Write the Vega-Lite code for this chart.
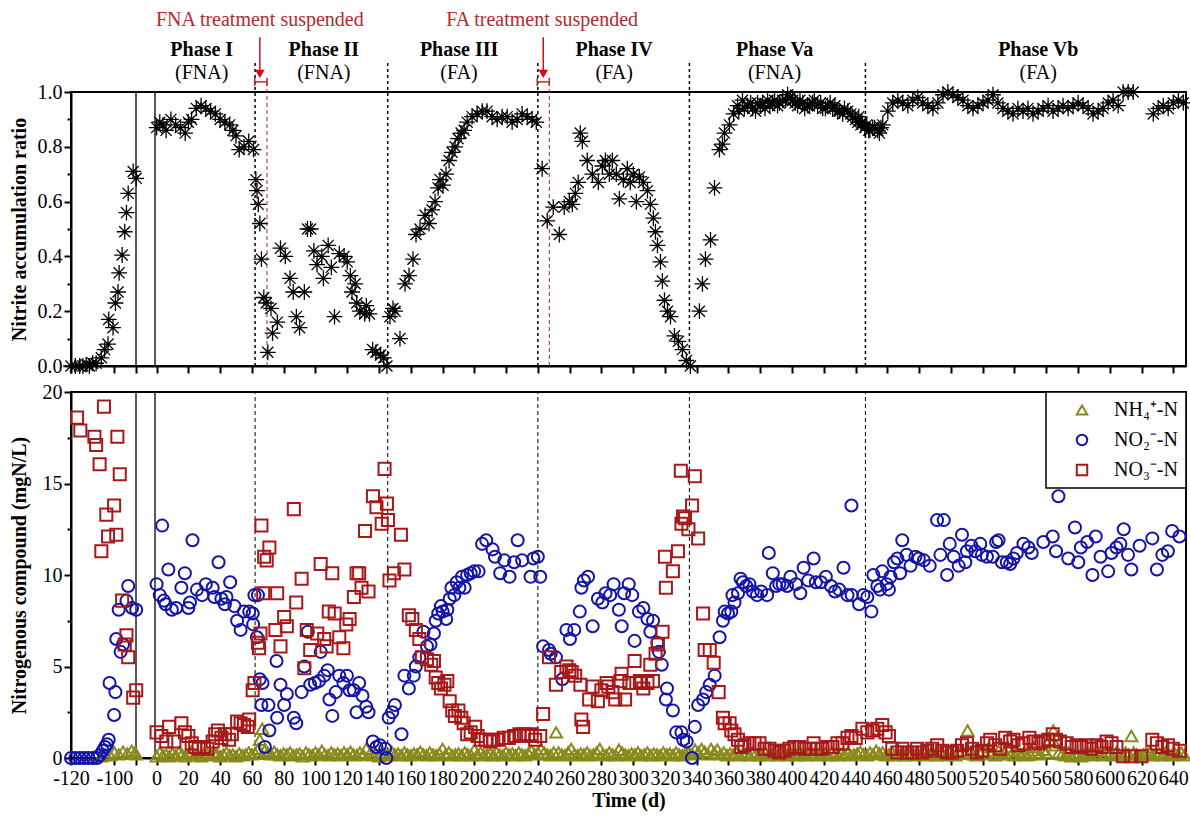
{
"$schema": "https://vega.github.io/schema/vega-lite/v6.json",
"background": "white",
"padding": {"left": 7, "top": 8, "right": 5, "bottom": 5},
"spacing": 26,
"bounds": "flush",
"resolve": {"scale": {"color": "independent", "shape": "independent"}},
"config": {
  "font": "Liberation Serif",
  "view": {"stroke": "black", "strokeWidth": 2},
  "axis": {"labelFont": "Liberation Serif", "labelFontSize": 20, "labelColor": "black", "titleFont": "Liberation Serif", "titleFontSize": 20, "titleFontWeight": "bold", "titleColor": "black", "domainColor": "black", "domainWidth": 2, "tickColor": "black", "tickWidth": 2, "tickSize": 7, "grid": false, "labelPadding": 2},
  "legend": {"orient": "top-right", "offset": 0, "strokeColor": "black", "strokeWidth": 1.5, "fillColor": "white", "padding": 8, "labelFont": "Liberation Serif", "labelFontSize": 20, "labelColor": "black", "symbolStrokeWidth": 2, "symbolSize": 110, "rowPadding": 10, "labelOffset": 22, "symbolOffset": 18}
},
"datasets": {
  "phT": [{"d":62,"r":0,"r2":1.11},{"d":145.5,"r":0,"r2":1.11},{"d":240,"r":0,"r2":1.11},{"d":335.4,"r":0,"r2":1.11},{"d":446.2,"r":0,"r2":1.11}],
  "brkT": [{"d":-90,"r":0,"r2":1},{"d":-1,"r":0,"r2":1}],
  "redT": [{"d":69.5,"r":0,"r2":1.037},{"d":247.2,"r":0,"r2":1.037}],
  "brH": [{"d":61.8,"d2":69.5,"r":1.037},{"d":239.6,"d2":247.2,"r":1.037}],
  "brV": [{"d":61.8,"r":1.022,"r2":1.052},{"d":69.5,"r":1.022,"r2":1.052},{"d":239.6,"r":1.022,"r2":1.052},{"d":247.2,"r":1.022,"r2":1.052}],
  "arr": [{"d":65,"r":1.08,"r2":1.2},{"d":243.4,"r":1.08,"r2":1.2}],
  "arrH": [{"d":65,"r":1.066},{"d":243.4,"r":1.066}],
  "phaseT": [{"d":28.4,"r":1.153,"t":"Phase I"},{"d":105.3,"r":1.153,"t":"Phase II"},{"d":190.4,"r":1.153,"t":"Phase III"},{"d":288,"r":1.153,"t":"Phase IV"},{"d":389,"r":1.153,"t":"Phase Va"},{"d":555,"r":1.153,"t":"Phase Vb"}],
  "regT": [{"d":28.4,"r":1.069,"t":"(FNA)"},{"d":105.3,"r":1.069,"t":"(FNA)"},{"d":190.4,"r":1.069,"t":"(FA)"},{"d":288,"r":1.069,"t":"(FA)"},{"d":389,"r":1.069,"t":"(FNA)"},{"d":555,"r":1.069,"t":"(FA)"}],
  "annT": [{"d":65,"r":1.263,"t":"FNA treatment suspended"},{"d":242.7,"r":1.263,"t":"FA treatment suspended"}],
  "nar": [
    {"d":-120,"r":0},{"d":-118,"r":0},{"d":-116,"r":0},{"d":-114.5,"r":0},{"d":-113,"r":0.005},{"d":-111.5,"r":0},{"d":-110,"r":0.01},{"d":-108.4,"r":0.01},{"d":-106,"r":0.03},{"d":-104.5,"r":0.06},{"d":-102.9,"r":0.08},{"d":-102.6,"r":0.17},{"d":-100.6,"r":0.14},{"d":-99.5,"r":0.23},{"d":-98.3,"r":0.27},{"d":-97.8,"r":0.34},{"d":-96.4,"r":0.405},{"d":-95.2,"r":0.49},{"d":-94.4,"r":0.56},{"d":-93.6,"r":0.63},{"d":-91.3,"r":0.71},{"d":-89,"r":0.685},
    {"d":0,"r":0.87},{"d":2,"r":0.89},{"d":4,"r":0.88},{"d":6,"r":0.86},{"d":9,"r":0.9},{"d":12,"r":0.88},{"d":15,"r":0.87},{"d":18,"r":0.85},{"d":20,"r":0.89},{"d":22,"r":0.9},{"d":25,"r":0.94},{"d":28,"r":0.95},{"d":31,"r":0.94},{"d":34,"r":0.93},{"d":37,"r":0.92},{"d":40,"r":0.9},{"d":43,"r":0.89},{"d":46,"r":0.88},{"d":48,"r":0.86},{"d":50,"r":0.84},{"d":52,"r":0.79},{"d":55,"r":0.8},{"d":58,"r":0.82},{"d":61,"r":0.79},
    {"d":62.5,"r":0.68},{"d":63.2,"r":0.64},{"d":64,"r":0.59},{"d":65,"r":0.52},{"d":66,"r":0.39},{"d":67.5,"r":0.25},{"d":69,"r":0.23},{"d":70,"r":0.05},{"d":72,"r":0.21},{"d":73,"r":0.12},{"d":76,"r":0.16},{"d":78,"r":0.43},{"d":81,"r":0.4},{"d":84,"r":0.32},{"d":86,"r":0.27},{"d":88,"r":0.18},{"d":90,"r":0.14},{"d":93,"r":0.27},{"d":95,"r":0.5},{"d":97,"r":0.5},{"d":99,"r":0.42},{"d":101,"r":0.37},{"d":104,"r":0.4},{"d":105,"r":0.32},{"d":108,"r":0.44},{"d":110,"r":0.36},{"d":112,"r":0.18},{"d":115,"r":0.41},{"d":118,"r":0.4},{"d":120,"r":0.38},{"d":122,"r":0.33},{"d":123,"r":0.27},{"d":125,"r":0.3},{"d":126,"r":0.23},{"d":128,"r":0.2},{"d":131,"r":0.19},{"d":132,"r":0.22},{"d":134,"r":0.19},{"d":136,"r":0.06},{"d":138,"r":0.05},{"d":141,"r":0.04},{"d":143,"r":0.03},{"d":145,"r":0.0},
    {"d":146.9,"r":0.18},{"d":148.8,"r":0.21},{"d":150.1,"r":0.2},{"d":153.2,"r":0.1},{"d":156.4,"r":0.3},{"d":158.9,"r":0.33},{"d":161.4,"r":0.39},{"d":163.3,"r":0.48},{"d":165.8,"r":0.5},{"d":169,"r":0.55},{"d":171.5,"r":0.52},{"d":173.4,"r":0.57},{"d":175.3,"r":0.6},{"d":177.2,"r":0.65},{"d":178.4,"r":0.68},{"d":180.3,"r":0.66},{"d":182.2,"r":0.7},{"d":184.1,"r":0.75},{"d":186,"r":0.78},{"d":187.9,"r":0.8},{"d":189.8,"r":0.83},{"d":191.7,"r":0.85},{"d":193.6,"r":0.86},{"d":195.5,"r":0.89},{"d":198.6,"r":0.91},{"d":201.8,"r":0.92},{"d":205,"r":0.93},{"d":208,"r":0.93},{"d":211.2,"r":0.91},{"d":214.4,"r":0.9},{"d":217.5,"r":0.91},{"d":220.7,"r":0.91},{"d":223.8,"r":0.89},{"d":227,"r":0.9},{"d":230.1,"r":0.92},{"d":233.3,"r":0.91},{"d":236.4,"r":0.9},{"d":239,"r":0.89},
    {"d":242.7,"r":0.72},{"d":245.9,"r":0.53},{"d":249.7,"r":0.58},{"d":253.5,"r":0.48},{"d":256.6,"r":0.58},{"d":259.8,"r":0.6},{"d":261.7,"r":0.59},{"d":263.6,"r":0.63},{"d":265.4,"r":0.67},{"d":266.7,"r":0.85},{"d":268,"r":0.82},{"d":271.1,"r":0.75},{"d":274.3,"r":0.7},{"d":278.1,"r":0.67},{"d":280.6,"r":0.73},{"d":282.5,"r":0.75},{"d":285,"r":0.7},{"d":286.9,"r":0.75},{"d":289.4,"r":0.7},{"d":291.3,"r":0.61},{"d":293.8,"r":0.68},{"d":296.3,"r":0.72},{"d":298.2,"r":0.67},{"d":300.1,"r":0.7},{"d":302,"r":0.6},{"d":303.9,"r":0.69},{"d":306.4,"r":0.67},{"d":309,"r":0.64},{"d":310.8,"r":0.59},{"d":312.7,"r":0.54},{"d":314,"r":0.49},{"d":315.3,"r":0.44},{"d":317.2,"r":0.38},{"d":318.4,"r":0.31},{"d":319.7,"r":0.24},{"d":321.6,"r":0.2},{"d":323.5,"r":0.18},{"d":326,"r":0.11},{"d":328.5,"r":0.09},{"d":331,"r":0.06},{"d":333.5,"r":0.02},{"d":336,"r":0.0},
    {"d":341.7,"r":0.2},{"d":343.6,"r":0.3},{"d":345.5,"r":0.39},{"d":348.7,"r":0.46},{"d":351.2,"r":0.65},{"d":354.3,"r":0.79},{"d":356.2,"r":0.81},{"d":357.5,"r":0.85},{"d":360.6,"r":0.88},{"d":363.2,"r":0.92},{"d":365.7,"r":0.95},{"d":366.5,"r":0.93},{"d":368.8,"r":0.97},{"d":370,"r":0.94},{"d":372,"r":0.95},{"d":374,"r":0.96},{"d":375.2,"r":0.94},{"d":377,"r":0.93},{"d":378.3,"r":0.96},{"d":380,"r":0.95},{"d":381.5,"r":0.96},{"d":383,"r":0.94},{"d":384.6,"r":0.97},{"d":386,"r":0.95},{"d":387.8,"r":0.96},{"d":389,"r":0.97},{"d":390.9,"r":0.95},{"d":392,"r":0.96},{"d":394.1,"r":0.97},{"d":396,"r":0.97},{"d":397.2,"r":0.99},{"d":399,"r":0.98},{"d":400.4,"r":0.97},{"d":402,"r":0.96},{"d":403.5,"r":0.95},{"d":405,"r":0.97},{"d":406.7,"r":0.96},{"d":408,"r":0.94},{"d":409.8,"r":0.95},{"d":411,"r":0.95},{"d":413,"r":0.96},{"d":414,"r":0.97},{"d":416.1,"r":0.95},{"d":418,"r":0.96},{"d":419.3,"r":0.94},{"d":421,"r":0.94},{"d":422.4,"r":0.95},{"d":424,"r":0.96},{"d":425.6,"r":0.94},{"d":427,"r":0.95},{"d":428.8,"r":0.93},{"d":430,"r":0.93},{"d":431.9,"r":0.92},{"d":433,"r":0.94},{"d":435.1,"r":0.93},{"d":437,"r":0.92},{"d":438.2,"r":0.91},{"d":440,"r":0.9},{"d":441.4,"r":0.89},{"d":442,"r":0.91},{"d":443.3,"r":0.88},{"d":444,"r":0.89},{"d":445.8,"r":0.87},{"d":447,"r":0.88},{"d":448.3,"r":0.86},{"d":449,"r":0.86},{"d":450.8,"r":0.87},{"d":452,"r":0.87},{"d":454,"r":0.86},{"d":455,"r":0.85},{"d":456,"r":0.87},{"d":457.1,"r":0.88},
    {"d":460.3,"r":0.93},{"d":463.4,"r":0.96},{"d":466.6,"r":0.97},{"d":469.7,"r":0.96},{"d":472.9,"r":0.95},{"d":476,"r":0.97},{"d":479.2,"r":0.98},{"d":482.3,"r":0.96},{"d":485.5,"r":0.95},{"d":488.7,"r":0.94},{"d":491.8,"r":0.96},{"d":495,"r":0.99},{"d":498.1,"r":1.0},{"d":501.3,"r":0.99},{"d":504.4,"r":0.98},{"d":507.6,"r":0.97},{"d":510.7,"r":0.95},{"d":513.9,"r":0.94},{"d":517,"r":0.95},{"d":520.2,"r":0.96},{"d":523.3,"r":0.97},{"d":526.5,"r":0.99},{"d":529.6,"r":0.96},{"d":532.8,"r":0.94},{"d":535.9,"r":0.93},{"d":539.1,"r":0.92},{"d":542.2,"r":0.94},{"d":545.4,"r":0.93},{"d":548.5,"r":0.94},{"d":551.7,"r":0.92},{"d":554.9,"r":0.93},{"d":558,"r":0.94},{"d":561.2,"r":0.95},{"d":564.3,"r":0.93},{"d":567.5,"r":0.94},{"d":570.6,"r":0.95},{"d":573.8,"r":0.94},{"d":576.9,"r":0.95},{"d":580.1,"r":0.96},{"d":583.2,"r":0.95},{"d":586.4,"r":0.94},{"d":589.5,"r":0.92},{"d":592.7,"r":0.93},{"d":595.8,"r":0.94},{"d":599,"r":0.96},{"d":602.1,"r":0.97},{"d":605.3,"r":0.95},{"d":608.4,"r":1.0},{"d":611.6,"r":1.0},{"d":614.8,"r":1.0},{"d":627.4,"r":0.92},{"d":630.5,"r":0.94},{"d":633.7,"r":0.95},{"d":636.8,"r":0.94},{"d":640,"r":0.96},{"d":643.2,"r":0.97},{"d":646.3,"r":0.96}
  ],
  "phB": [{"d":62,"v":0,"v2":20},{"d":145.5,"v":0,"v2":20},{"d":240,"v":0,"v2":20},{"d":335.4,"v":0,"v2":20},{"d":446.2,"v":0,"v2":20}],
  "brkB": [{"d":-90,"v":0,"v2":20},{"d":-1,"v":0,"v2":20}],
  "nc": [
    {"d":-106,"v":0.1,"s":"NH4"},{"d":-104,"v":0.2,"s":"NH4"},{"d":-102,"v":0.15,"s":"NH4"},{"d":-100,"v":0.3,"s":"NH4"},{"d":-98,"v":0.2,"s":"NH4"},{"d":-96,"v":0.35,"s":"NH4"},{"d":-94,"v":0.25,"s":"NH4"},{"d":-92,"v":0.4,"s":"NH4"},{"d":-90.5,"v":0.3,"s":"NH4"},{"d":-89,"v":0.2,"s":"NH4"},
    {"d":0,"v":0.1,"s":"NH4"},{"d":2,"v":0.3,"s":"NH4"},{"d":4,"v":0.15,"s":"NH4"},{"d":6,"v":0.2,"s":"NH4"},{"d":8,"v":0.1,"s":"NH4"},{"d":10,"v":0.25,"s":"NH4"},{"d":12,"v":0.15,"s":"NH4"},{"d":14,"v":0.3,"s":"NH4"},{"d":16,"v":0.2,"s":"NH4"},{"d":18,"v":0.1,"s":"NH4"},{"d":20,"v":0.2,"s":"NH4"},{"d":22,"v":0.35,"s":"NH4"},{"d":24,"v":0.15,"s":"NH4"},{"d":26,"v":0.2,"s":"NH4"},{"d":28,"v":0.1,"s":"NH4"},{"d":30,"v":0.25,"s":"NH4"},{"d":32,"v":0.2,"s":"NH4"},{"d":34,"v":0.15,"s":"NH4"},{"d":36,"v":0.3,"s":"NH4"},{"d":38,"v":0.2,"s":"NH4"},{"d":40,"v":0.1,"s":"NH4"},{"d":42,"v":0.2,"s":"NH4"},{"d":44,"v":0.3,"s":"NH4"},{"d":46,"v":0.15,"s":"NH4"},{"d":48,"v":0.2,"s":"NH4"},{"d":50,"v":0.1,"s":"NH4"},{"d":52,"v":0.25,"s":"NH4"},{"d":54,"v":0.15,"s":"NH4"},{"d":56,"v":0.2,"s":"NH4"},{"d":58,"v":0.3,"s":"NH4"},{"d":60,"v":0.2,"s":"NH4"},{"d":62,"v":0.25,"s":"NH4"},{"d":64,"v":0.5,"s":"NH4"},{"d":65,"v":1.0,"s":"NH4"},{"d":66.5,"v":1.6,"s":"NH4"},{"d":68,"v":0.4,"s":"NH4"},{"d":70,"v":0.3,"s":"NH4"},{"d":72,"v":0.2,"s":"NH4"},{"d":74,"v":0.35,"s":"NH4"},{"d":76,"v":0.2,"s":"NH4"},{"d":78,"v":0.15,"s":"NH4"},{"d":80,"v":0.25,"s":"NH4"},{"d":82,"v":0.2,"s":"NH4"},{"d":84,"v":0.3,"s":"NH4"},{"d":86,"v":0.15,"s":"NH4"},{"d":88,"v":0.2,"s":"NH4"},{"d":90,"v":0.25,"s":"NH4"},{"d":92,"v":0.1,"s":"NH4"},{"d":94,"v":0.3,"s":"NH4"},{"d":96,"v":0.2,"s":"NH4"},{"d":98,"v":0.15,"s":"NH4"},{"d":100,"v":0.3,"s":"NH4"},{"d":102,"v":0.2,"s":"NH4"},{"d":104,"v":0.4,"s":"NH4"},{"d":106,"v":0.2,"s":"NH4"},{"d":108,"v":0.15,"s":"NH4"},{"d":110,"v":0.3,"s":"NH4"},{"d":112,"v":0.2,"s":"NH4"},{"d":114,"v":0.25,"s":"NH4"},{"d":116,"v":0.15,"s":"NH4"},{"d":118,"v":0.3,"s":"NH4"},{"d":120,"v":0.2,"s":"NH4"},{"d":122,"v":0.35,"s":"NH4"},{"d":124,"v":0.2,"s":"NH4"},{"d":126,"v":0.15,"s":"NH4"},{"d":128,"v":0.3,"s":"NH4"},{"d":130,"v":0.2,"s":"NH4"},{"d":132,"v":0.5,"s":"NH4"},{"d":134,"v":0.2,"s":"NH4"},{"d":136,"v":0.15,"s":"NH4"},{"d":138,"v":0.25,"s":"NH4"},{"d":140,"v":0.1,"s":"NH4"},{"d":142,"v":0.3,"s":"NH4"},{"d":144,"v":0.2,"s":"NH4"},{"d":146,"v":0.15,"s":"NH4"},{"d":148,"v":0.35,"s":"NH4"},{"d":150,"v":0.2,"s":"NH4"},{"d":152,"v":0.25,"s":"NH4"},{"d":154,"v":0.15,"s":"NH4"},{"d":156,"v":0.3,"s":"NH4"},{"d":158,"v":0.2,"s":"NH4"},{"d":160,"v":0.15,"s":"NH4"},{"d":162,"v":0.25,"s":"NH4"},{"d":164,"v":0.2,"s":"NH4"},{"d":166,"v":0.35,"s":"NH4"},{"d":168,"v":0.2,"s":"NH4"},{"d":170,"v":0.15,"s":"NH4"},{"d":172,"v":0.3,"s":"NH4"},{"d":174,"v":0.2,"s":"NH4"},{"d":176,"v":0.15,"s":"NH4"},{"d":178,"v":0.25,"s":"NH4"},{"d":180,"v":0.5,"s":"NH4"},{"d":182,"v":0.2,"s":"NH4"},{"d":184,"v":0.3,"s":"NH4"},{"d":186,"v":0.15,"s":"NH4"},{"d":188,"v":0.2,"s":"NH4"},{"d":190,"v":0.25,"s":"NH4"},{"d":192,"v":0.15,"s":"NH4"},{"d":194,"v":0.3,"s":"NH4"},{"d":196,"v":0.2,"s":"NH4"},{"d":198,"v":0.15,"s":"NH4"},{"d":200,"v":0.45,"s":"NH4"},{"d":202,"v":0.2,"s":"NH4"},{"d":204,"v":0.3,"s":"NH4"},{"d":206,"v":0.15,"s":"NH4"},{"d":208,"v":0.2,"s":"NH4"},{"d":210,"v":0.25,"s":"NH4"},{"d":212,"v":0.15,"s":"NH4"},{"d":214,"v":0.3,"s":"NH4"},{"d":216,"v":0.2,"s":"NH4"},{"d":218,"v":0.15,"s":"NH4"},{"d":220,"v":0.3,"s":"NH4"},{"d":222,"v":0.2,"s":"NH4"},{"d":224,"v":0.25,"s":"NH4"},{"d":226,"v":0.15,"s":"NH4"},{"d":228,"v":0.3,"s":"NH4"},{"d":230,"v":0.2,"s":"NH4"},{"d":232,"v":0.15,"s":"NH4"},{"d":234,"v":0.25,"s":"NH4"},{"d":236,"v":0.4,"s":"NH4"},{"d":238,"v":0.2,"s":"NH4"},{"d":240,"v":0.3,"s":"NH4"},{"d":242,"v":0.5,"s":"NH4"},{"d":244,"v":0.3,"s":"NH4"},{"d":246,"v":0.2,"s":"NH4"},{"d":248,"v":0.15,"s":"NH4"},{"d":250,"v":0.3,"s":"NH4"},{"d":251.5,"v":1.4,"s":"NH4"},{"d":253,"v":0.3,"s":"NH4"},{"d":255,"v":0.2,"s":"NH4"},{"d":257,"v":0.15,"s":"NH4"},{"d":259,"v":0.3,"s":"NH4"},{"d":261,"v":0.5,"s":"NH4"},{"d":263,"v":0.2,"s":"NH4"},{"d":265,"v":0.15,"s":"NH4"},{"d":267,"v":0.25,"s":"NH4"},{"d":269,"v":0.2,"s":"NH4"},{"d":271,"v":0.3,"s":"NH4"},{"d":273,"v":0.15,"s":"NH4"},{"d":275,"v":0.2,"s":"NH4"},{"d":277,"v":0.3,"s":"NH4"},{"d":279,"v":0.5,"s":"NH4"},{"d":281,"v":0.2,"s":"NH4"},{"d":283,"v":0.15,"s":"NH4"},{"d":285,"v":0.3,"s":"NH4"},{"d":287,"v":0.2,"s":"NH4"},{"d":289,"v":0.15,"s":"NH4"},{"d":291,"v":0.45,"s":"NH4"},{"d":293,"v":0.3,"s":"NH4"},{"d":295,"v":0.2,"s":"NH4"},{"d":297,"v":0.15,"s":"NH4"},{"d":299,"v":0.25,"s":"NH4"},{"d":301,"v":0.2,"s":"NH4"},{"d":303,"v":0.3,"s":"NH4"},{"d":305,"v":0.15,"s":"NH4"},{"d":307,"v":0.2,"s":"NH4"},{"d":309,"v":0.3,"s":"NH4"},{"d":311,"v":0.15,"s":"NH4"},{"d":313,"v":0.25,"s":"NH4"},{"d":315,"v":0.2,"s":"NH4"},{"d":317,"v":0.15,"s":"NH4"},{"d":319,"v":0.3,"s":"NH4"},{"d":321,"v":0.2,"s":"NH4"},{"d":323,"v":0.25,"s":"NH4"},{"d":325,"v":0.15,"s":"NH4"},{"d":327,"v":0.3,"s":"NH4"},{"d":329,"v":0.2,"s":"NH4"},{"d":331,"v":0.15,"s":"NH4"},{"d":333,"v":0.25,"s":"NH4"},{"d":335,"v":0.3,"s":"NH4"},{"d":337,"v":0.2,"s":"NH4"},{"d":339,"v":0.45,"s":"NH4"},{"d":341,"v":0.3,"s":"NH4"},{"d":343,"v":0.5,"s":"NH4"},{"d":345,"v":0.35,"s":"NH4"},{"d":347,"v":0.2,"s":"NH4"},{"d":349,"v":0.5,"s":"NH4"},{"d":351,"v":0.3,"s":"NH4"},{"d":353,"v":0.45,"s":"NH4"},{"d":355,"v":0.2,"s":"NH4"},{"d":357,"v":0.3,"s":"NH4"},{"d":359,"v":0.15,"s":"NH4"},{"d":361,"v":0.25,"s":"NH4"},{"d":363,"v":0.2,"s":"NH4"},{"d":365,"v":0.3,"s":"NH4"},{"d":367,"v":0.15,"s":"NH4"},{"d":369,"v":0.2,"s":"NH4"},{"d":371,"v":0.25,"s":"NH4"},{"d":373,"v":0.15,"s":"NH4"},{"d":375,"v":0.3,"s":"NH4"},{"d":377,"v":0.2,"s":"NH4"},{"d":379,"v":0.15,"s":"NH4"},{"d":381,"v":0.2,"s":"NH4"},{"d":383,"v":0.3,"s":"NH4"},{"d":385,"v":0.15,"s":"NH4"},{"d":387,"v":0.2,"s":"NH4"},{"d":389,"v":0.25,"s":"NH4"},{"d":391,"v":0.15,"s":"NH4"},{"d":393,"v":0.3,"s":"NH4"},{"d":395,"v":0.2,"s":"NH4"},{"d":397,"v":0.15,"s":"NH4"},{"d":399,"v":0.25,"s":"NH4"},{"d":401,"v":0.2,"s":"NH4"},{"d":403,"v":0.15,"s":"NH4"},{"d":405,"v":0.3,"s":"NH4"},{"d":407,"v":0.2,"s":"NH4"},{"d":409,"v":0.15,"s":"NH4"},{"d":411,"v":0.25,"s":"NH4"},{"d":413,"v":0.2,"s":"NH4"},{"d":415,"v":0.3,"s":"NH4"},{"d":417,"v":0.15,"s":"NH4"},{"d":419,"v":0.2,"s":"NH4"},{"d":421,"v":0.25,"s":"NH4"},{"d":423,"v":0.15,"s":"NH4"},{"d":425,"v":0.3,"s":"NH4"},{"d":427,"v":0.2,"s":"NH4"},{"d":429,"v":0.15,"s":"NH4"},{"d":431,"v":0.25,"s":"NH4"},{"d":433,"v":0.2,"s":"NH4"},{"d":435,"v":0.3,"s":"NH4"},{"d":437,"v":0.15,"s":"NH4"},{"d":439,"v":0.2,"s":"NH4"},{"d":441,"v":0.25,"s":"NH4"},{"d":443,"v":0.35,"s":"NH4"},{"d":445,"v":0.2,"s":"NH4"},{"d":447,"v":0.15,"s":"NH4"},{"d":449,"v":0.3,"s":"NH4"},{"d":451,"v":0.2,"s":"NH4"},{"d":453,"v":0.4,"s":"NH4"},{"d":455,"v":0.25,"s":"NH4"},{"d":457,"v":0.3,"s":"NH4"},{"d":459,"v":0.15,"s":"NH4"},{"d":461,"v":0.2,"s":"NH4"},{"d":463,"v":0.3,"s":"NH4"},{"d":465,"v":0.15,"s":"NH4"},{"d":467,"v":0.2,"s":"NH4"},{"d":469,"v":0.25,"s":"NH4"},{"d":471,"v":0.15,"s":"NH4"},{"d":473,"v":0.3,"s":"NH4"},{"d":475,"v":0.2,"s":"NH4"},{"d":477,"v":0.15,"s":"NH4"},{"d":479,"v":0.25,"s":"NH4"},{"d":481,"v":0.2,"s":"NH4"},{"d":483,"v":0.3,"s":"NH4"},{"d":485,"v":0.15,"s":"NH4"},{"d":487,"v":0.2,"s":"NH4"},{"d":489,"v":0.25,"s":"NH4"},{"d":491,"v":0.15,"s":"NH4"},{"d":493,"v":0.3,"s":"NH4"},{"d":495,"v":0.2,"s":"NH4"},{"d":497,"v":0.15,"s":"NH4"},{"d":499,"v":0.3,"s":"NH4"},{"d":501,"v":0.2,"s":"NH4"},{"d":503,"v":0.15,"s":"NH4"},{"d":505,"v":0.3,"s":"NH4"},{"d":507,"v":0.4,"s":"NH4"},{"d":509,"v":0.25,"s":"NH4"},{"d":510.5,"v":1.5,"s":"NH4"},{"d":512,"v":0.3,"s":"NH4"},{"d":514,"v":0.2,"s":"NH4"},{"d":516,"v":0.15,"s":"NH4"},{"d":518,"v":0.3,"s":"NH4"},{"d":520,"v":0.4,"s":"NH4"},{"d":522,"v":0.2,"s":"NH4"},{"d":524,"v":0.6,"s":"NH4"},{"d":526,"v":0.3,"s":"NH4"},{"d":528,"v":0.15,"s":"NH4"},{"d":530,"v":0.4,"s":"NH4"},{"d":532,"v":0.2,"s":"NH4"},{"d":534,"v":0.3,"s":"NH4"},{"d":536,"v":0.6,"s":"NH4"},{"d":538,"v":0.2,"s":"NH4"},{"d":540,"v":0.15,"s":"NH4"},{"d":542,"v":0.35,"s":"NH4"},{"d":544,"v":0.2,"s":"NH4"},{"d":546,"v":0.3,"s":"NH4"},{"d":548,"v":0.15,"s":"NH4"},{"d":550,"v":0.2,"s":"NH4"},{"d":552,"v":0.6,"s":"NH4"},{"d":554,"v":0.3,"s":"NH4"},{"d":556,"v":0.2,"s":"NH4"},{"d":558,"v":0.45,"s":"NH4"},{"d":560,"v":0.3,"s":"NH4"},{"d":562,"v":1.0,"s":"NH4"},{"d":564.5,"v":1.5,"s":"NH4"},{"d":566,"v":0.7,"s":"NH4"},{"d":568,"v":0.3,"s":"NH4"},{"d":570,"v":0.2,"s":"NH4"},{"d":572,"v":0.15,"s":"NH4"},{"d":574,"v":0.3,"s":"NH4"},{"d":576,"v":0.1,"s":"NH4"},{"d":578,"v":0.2,"s":"NH4"},{"d":580,"v":0.15,"s":"NH4"},{"d":582,"v":0.1,"s":"NH4"},{"d":584,"v":0.2,"s":"NH4"},{"d":586,"v":0.3,"s":"NH4"},{"d":588,"v":0.15,"s":"NH4"},{"d":590,"v":0.2,"s":"NH4"},{"d":592,"v":0.4,"s":"NH4"},{"d":594,"v":0.2,"s":"NH4"},{"d":596,"v":0.15,"s":"NH4"},{"d":598,"v":0.25,"s":"NH4"},{"d":600,"v":0.2,"s":"NH4"},{"d":602,"v":0.15,"s":"NH4"},{"d":604,"v":0.3,"s":"NH4"},{"d":606,"v":0.2,"s":"NH4"},{"d":608,"v":0.15,"s":"NH4"},{"d":610,"v":0.3,"s":"NH4"},{"d":612,"v":0.2,"s":"NH4"},{"d":613.6,"v":1.2,"s":"NH4"},{"d":615,"v":0.3,"s":"NH4"},{"d":617,"v":0.2,"s":"NH4"},{"d":619,"v":0.15,"s":"NH4"},{"d":621,"v":0.2,"s":"NH4"},{"d":623,"v":0.3,"s":"NH4"},{"d":625,"v":0.3,"s":"NH4"},{"d":627,"v":0.15,"s":"NH4"},{"d":629,"v":0.2,"s":"NH4"},{"d":631,"v":0.25,"s":"NH4"},{"d":633,"v":0.15,"s":"NH4"},{"d":635,"v":0.3,"s":"NH4"},{"d":637,"v":0.2,"s":"NH4"},{"d":639,"v":0.15,"s":"NH4"},{"d":641,"v":0.25,"s":"NH4"},{"d":643,"v":0.2,"s":"NH4"},{"d":645,"v":0.3,"s":"NH4"},{"d":647,"v":0.15,"s":"NH4"},
    {"d":-120,"v":0,"s":"NO2"},{"d":-118,"v":0,"s":"NO2"},{"d":-116,"v":0,"s":"NO2"},{"d":-114,"v":0,"s":"NO2"},{"d":-112,"v":0,"s":"NO2"},{"d":-110,"v":0,"s":"NO2"},{"d":-108,"v":0,"s":"NO2"},{"d":-106.8,"v":0.15,"s":"NO2"},{"d":-105.3,"v":0.4,"s":"NO2"},{"d":-104.3,"v":0.6,"s":"NO2"},{"d":-103.4,"v":0.75,"s":"NO2"},{"d":-102.6,"v":1.0,"s":"NO2"},{"d":-102.2,"v":4.1,"s":"NO2"},{"d":-100.1,"v":2.35,"s":"NO2"},{"d":-99.5,"v":3.6,"s":"NO2"},{"d":-99.1,"v":6.5,"s":"NO2"},{"d":-98,"v":8.1,"s":"NO2"},{"d":-97.1,"v":5.8,"s":"NO2"},{"d":-96,"v":6.2,"s":"NO2"},{"d":-94.4,"v":8.6,"s":"NO2"},{"d":-93.6,"v":9.4,"s":"NO2"},{"d":-91.8,"v":8.2,"s":"NO2"},{"d":-89,"v":8.1,"s":"NO2"},
    {"d":0,"v":9.5,"s":"NO2"},{"d":2,"v":8.9,"s":"NO2"},{"d":3.5,"v":12.7,"s":"NO2"},{"d":4.6,"v":8.6,"s":"NO2"},{"d":5.7,"v":8.4,"s":"NO2"},{"d":7.4,"v":10.3,"s":"NO2"},{"d":9.6,"v":8.1,"s":"NO2"},{"d":12.3,"v":8.2,"s":"NO2"},{"d":15.6,"v":9.3,"s":"NO2"},{"d":17.8,"v":10.1,"s":"NO2"},{"d":20,"v":8.2,"s":"NO2"},{"d":21,"v":8.5,"s":"NO2"},{"d":22.6,"v":11.9,"s":"NO2"},{"d":25.4,"v":9.2,"s":"NO2"},{"d":28.7,"v":8.9,"s":"NO2"},{"d":31,"v":9.5,"s":"NO2"},{"d":35.3,"v":9.3,"s":"NO2"},{"d":36.4,"v":8.8,"s":"NO2"},{"d":39,"v":10.7,"s":"NO2"},{"d":40.8,"v":8.7,"s":"NO2"},{"d":43,"v":8.4,"s":"NO2"},{"d":44,"v":8.8,"s":"NO2"},{"d":46.3,"v":9.6,"s":"NO2"},{"d":49,"v":8.3,"s":"NO2"},{"d":50.7,"v":7.5,"s":"NO2"},{"d":52.9,"v":7.0,"s":"NO2"},{"d":55,"v":8.0,"s":"NO2"},{"d":58.3,"v":8.0,"s":"NO2"},{"d":60.5,"v":7.9,"s":"NO2"},{"d":61.6,"v":8.9,"s":"NO2"},{"d":63.8,"v":8.9,"s":"NO2"},{"d":60.8,"v":7.3,"s":"NO2"},{"d":63.2,"v":6.6,"s":"NO2"},{"d":64.9,"v":4.3,"s":"NO2"},{"d":66.7,"v":4.1,"s":"NO2"},{"d":68.2,"v":0.6,"s":"NO2"},{"d":71,"v":1.5,"s":"NO2"},{"d":66,"v":2.9,"s":"NO2"},{"d":70.4,"v":2.9,"s":"NO2"},{"d":75.5,"v":5.3,"s":"NO2"},{"d":75.9,"v":2.2,"s":"NO2"},{"d":78,"v":4.0,"s":"NO2"},{"d":80.3,"v":2.9,"s":"NO2"},{"d":82,"v":3.5,"s":"NO2"},{"d":86.4,"v":2.2,"s":"NO2"},{"d":87.9,"v":1.9,"s":"NO2"},{"d":91.3,"v":3.6,"s":"NO2"},{"d":93,"v":5.0,"s":"NO2"},{"d":95.2,"v":6.9,"s":"NO2"},{"d":96.7,"v":4.0,"s":"NO2"},{"d":99.6,"v":4.1,"s":"NO2"},{"d":102.2,"v":4.2,"s":"NO2"},{"d":103.3,"v":5.8,"s":"NO2"},{"d":105.5,"v":4.5,"s":"NO2"},{"d":107.7,"v":4.8,"s":"NO2"},{"d":108.8,"v":3.2,"s":"NO2"},{"d":110.6,"v":2.3,"s":"NO2"},{"d":112.8,"v":3.6,"s":"NO2"},{"d":115,"v":4.5,"s":"NO2"},{"d":117.6,"v":4.1,"s":"NO2"},{"d":119.8,"v":4.5,"s":"NO2"},{"d":121.5,"v":3.7,"s":"NO2"},{"d":124.2,"v":3.7,"s":"NO2"},{"d":125.9,"v":2.5,"s":"NO2"},{"d":127.5,"v":4.1,"s":"NO2"},{"d":129.6,"v":3.4,"s":"NO2"},{"d":131.9,"v":2.8,"s":"NO2"},{"d":133.4,"v":2.5,"s":"NO2"},{"d":136.2,"v":0.9,"s":"NO2"},{"d":138.4,"v":0.6,"s":"NO2"},{"d":140.6,"v":0.7,"s":"NO2"},{"d":143.9,"v":0.5,"s":"NO2"},{"d":144.6,"v":0.0,"s":"NO2"},{"d":146.1,"v":2.2,"s":"NO2"},{"d":148.3,"v":2.5,"s":"NO2"},{"d":150,"v":2.9,"s":"NO2"},{"d":154.2,"v":1.3,"s":"NO2"},{"d":156,"v":4.5,"s":"NO2"},{"d":158.8,"v":3.8,"s":"NO2"},{"d":161.9,"v":4.5,"s":"NO2"},{"d":163.2,"v":5.0,"s":"NO2"},{"d":165.4,"v":5.5,"s":"NO2"},{"d":168,"v":6.9,"s":"NO2"},{"d":170.2,"v":6.1,"s":"NO2"},{"d":172.4,"v":6.2,"s":"NO2"},{"d":174.6,"v":6.8,"s":"NO2"},{"d":175.7,"v":7.5,"s":"NO2"},{"d":177.3,"v":7.9,"s":"NO2"},{"d":179,"v":8.3,"s":"NO2"},{"d":180.1,"v":8.0,"s":"NO2"},{"d":182.3,"v":7.6,"s":"NO2"},{"d":183,"v":8.1,"s":"NO2"},{"d":184.5,"v":8.7,"s":"NO2"},{"d":185.6,"v":9.3,"s":"NO2"},{"d":187.4,"v":8.9,"s":"NO2"},{"d":188.9,"v":9.6,"s":"NO2"},{"d":190.6,"v":9.3,"s":"NO2"},{"d":192.2,"v":9.9,"s":"NO2"},{"d":193.9,"v":9.3,"s":"NO2"},{"d":195.5,"v":10.0,"s":"NO2"},{"d":197.7,"v":10.1,"s":"NO2"},{"d":199.9,"v":10.2,"s":"NO2"},{"d":202.7,"v":10.2,"s":"NO2"},{"d":204.9,"v":11.7,"s":"NO2"},{"d":207.5,"v":11.9,"s":"NO2"},{"d":211.5,"v":11.4,"s":"NO2"},{"d":213,"v":11.0,"s":"NO2"},{"d":216.3,"v":10.1,"s":"NO2"},{"d":218.9,"v":10.8,"s":"NO2"},{"d":222.2,"v":9.9,"s":"NO2"},{"d":225.1,"v":10.7,"s":"NO2"},{"d":227.3,"v":11.9,"s":"NO2"},{"d":230.1,"v":10.8,"s":"NO2"},{"d":235.4,"v":9.9,"s":"NO2"},{"d":237.2,"v":10.9,"s":"NO2"},{"d":240,"v":11.0,"s":"NO2"},{"d":241.5,"v":9.9,"s":"NO2"},{"d":243.3,"v":6.1,"s":"NO2"},{"d":247,"v":5.9,"s":"NO2"},{"d":248.1,"v":5.7,"s":"NO2"},{"d":251.4,"v":5.5,"s":"NO2"},{"d":255.4,"v":4.3,"s":"NO2"},{"d":258,"v":7.0,"s":"NO2"},{"d":260.2,"v":6.5,"s":"NO2"},{"d":262.9,"v":7.0,"s":"NO2"},{"d":266.4,"v":8.0,"s":"NO2"},{"d":267.4,"v":9.3,"s":"NO2"},{"d":269,"v":9.7,"s":"NO2"},{"d":271.6,"v":9.9,"s":"NO2"},{"d":274.5,"v":7.2,"s":"NO2"},{"d":277.8,"v":8.7,"s":"NO2"},{"d":280.6,"v":8.5,"s":"NO2"},{"d":282.6,"v":9.0,"s":"NO2"},{"d":285.5,"v":8.9,"s":"NO2"},{"d":287.7,"v":9.5,"s":"NO2"},{"d":291,"v":8.1,"s":"NO2"},{"d":292.8,"v":7.2,"s":"NO2"},{"d":294.3,"v":9.0,"s":"NO2"},{"d":297.2,"v":9.5,"s":"NO2"},{"d":299.4,"v":8.9,"s":"NO2"},{"d":300.9,"v":6.4,"s":"NO2"},{"d":303.6,"v":8.0,"s":"NO2"},{"d":306.4,"v":8.2,"s":"NO2"},{"d":309,"v":7.6,"s":"NO2"},{"d":310.8,"v":6.9,"s":"NO2"},{"d":312.5,"v":7.5,"s":"NO2"},{"d":315.2,"v":6.3,"s":"NO2"},{"d":316.2,"v":5.8,"s":"NO2"},{"d":318,"v":5.1,"s":"NO2"},{"d":321.3,"v":3.8,"s":"NO2"},{"d":320.6,"v":3.2,"s":"NO2"},{"d":325,"v":2.6,"s":"NO2"},{"d":327.1,"v":1.4,"s":"NO2"},{"d":330.4,"v":1.4,"s":"NO2"},{"d":331.5,"v":1.0,"s":"NO2"},{"d":333.7,"v":0.9,"s":"NO2"},{"d":337,"v":0.0,"s":"NO2"},
    {"d":338.8,"v":1.7,"s":"NO2"},{"d":340.9,"v":2.9,"s":"NO2"},{"d":344,"v":3.2,"s":"NO2"},{"d":346,"v":3.6,"s":"NO2"},{"d":348.2,"v":4.0,"s":"NO2"},{"d":351.3,"v":4.5,"s":"NO2"},{"d":354.4,"v":6.6,"s":"NO2"},{"d":356.5,"v":7.5,"s":"NO2"},{"d":357.6,"v":8.0,"s":"NO2"},{"d":359.7,"v":7.9,"s":"NO2"},{"d":361.8,"v":8.0,"s":"NO2"},{"d":363.8,"v":8.5,"s":"NO2"},{"d":362.5,"v":8.9,"s":"NO2"},{"d":366,"v":9.0,"s":"NO2"},{"d":367.6,"v":9.8,"s":"NO2"},{"d":369.1,"v":9.6,"s":"NO2"},{"d":371.2,"v":9.4,"s":"NO2"},{"d":373.2,"v":9.5,"s":"NO2"},{"d":375.3,"v":9.1,"s":"NO2"},{"d":378,"v":8.9,"s":"NO2"},{"d":380.6,"v":9.1,"s":"NO2"},{"d":384.3,"v":8.9,"s":"NO2"},{"d":385.4,"v":11.2,"s":"NO2"},{"d":387.9,"v":10.1,"s":"NO2"},{"d":390,"v":9.4,"s":"NO2"},{"d":392,"v":9.5,"s":"NO2"},{"d":394.1,"v":9.5,"s":"NO2"},{"d":396.9,"v":9.4,"s":"NO2"},{"d":399,"v":9.9,"s":"NO2"},{"d":402.5,"v":9.5,"s":"NO2"},{"d":405.2,"v":9.0,"s":"NO2"},{"d":407.3,"v":10.4,"s":"NO2"},{"d":410.2,"v":9.7,"s":"NO2"},{"d":413.6,"v":10.9,"s":"NO2"},{"d":415,"v":9.6,"s":"NO2"},{"d":418.2,"v":9.6,"s":"NO2"},{"d":421.3,"v":9.9,"s":"NO2"},{"d":424.5,"v":9.4,"s":"NO2"},{"d":427,"v":9.1,"s":"NO2"},{"d":429.7,"v":9.2,"s":"NO2"},{"d":432.4,"v":10.4,"s":"NO2"},{"d":434.9,"v":8.9,"s":"NO2"},{"d":437.6,"v":8.9,"s":"NO2"},{"d":437.4,"v":13.8,"s":"NO2"},{"d":442.2,"v":8.4,"s":"NO2"},{"d":444.9,"v":8.9,"s":"NO2"},{"d":447.4,"v":8.8,"s":"NO2"},{"d":450,"v":8.0,"s":"NO2"},{"d":451.2,"v":10.0,"s":"NO2"},{"d":453.7,"v":9.4,"s":"NO2"},{"d":455.4,"v":9.2,"s":"NO2"},{"d":456.8,"v":10.2,"s":"NO2"},{"d":459.6,"v":9.5,"s":"NO2"},{"d":461,"v":9.2,"s":"NO2"},{"d":462,"v":9.9,"s":"NO2"},{"d":464.2,"v":10.7,"s":"NO2"},{"d":466.3,"v":10.9,"s":"NO2"},{"d":468,"v":10.1,"s":"NO2"},{"d":469.4,"v":11.9,"s":"NO2"},{"d":472.1,"v":11.1,"s":"NO2"},{"d":474.6,"v":10.5,"s":"NO2"},{"d":477.7,"v":11.0,"s":"NO2"},{"d":479.8,"v":10.9,"s":"NO2"},{"d":483,"v":10.8,"s":"NO2"},{"d":486.7,"v":10.5,"s":"NO2"},{"d":491.3,"v":13.0,"s":"NO2"},{"d":495.5,"v":13.0,"s":"NO2"},{"d":493.4,"v":11.1,"s":"NO2"},{"d":497.6,"v":10.0,"s":"NO2"},{"d":499.3,"v":11.7,"s":"NO2"},{"d":501.8,"v":11.0,"s":"NO2"},{"d":504.9,"v":10.5,"s":"NO2"},{"d":507,"v":12.2,"s":"NO2"},{"d":509.1,"v":10.7,"s":"NO2"},{"d":510.1,"v":11.3,"s":"NO2"},{"d":512.9,"v":11.6,"s":"NO2"},{"d":515.4,"v":11.3,"s":"NO2"},{"d":518.5,"v":11.7,"s":"NO2"},{"d":519.5,"v":11.1,"s":"NO2"},{"d":522.7,"v":11.0,"s":"NO2"},{"d":526.4,"v":11.0,"s":"NO2"},{"d":528.5,"v":11.8,"s":"NO2"},{"d":530,"v":11.9,"s":"NO2"},{"d":532.1,"v":10.7,"s":"NO2"},{"d":535.2,"v":10.7,"s":"NO2"},{"d":537.3,"v":10.6,"s":"NO2"},{"d":539.4,"v":10.9,"s":"NO2"},{"d":541.5,"v":11.2,"s":"NO2"},{"d":545.7,"v":11.7,"s":"NO2"},{"d":548.8,"v":11.5,"s":"NO2"},{"d":550.9,"v":11.2,"s":"NO2"},{"d":558.2,"v":11.8,"s":"NO2"},{"d":564.1,"v":12.1,"s":"NO2"},{"d":566.2,"v":11.3,"s":"NO2"},{"d":567.7,"v":14.3,"s":"NO2"},{"d":573.9,"v":10.9,"s":"NO2"},{"d":578.1,"v":12.6,"s":"NO2"},{"d":580.2,"v":10.7,"s":"NO2"},{"d":581.8,"v":11.5,"s":"NO2"},{"d":585.8,"v":11.8,"s":"NO2"},{"d":589.1,"v":10.0,"s":"NO2"},{"d":591.2,"v":12.1,"s":"NO2"},{"d":594.2,"v":11.0,"s":"NO2"},{"d":599,"v":10.2,"s":"NO2"},{"d":601.1,"v":11.2,"s":"NO2"},{"d":604.2,"v":11.5,"s":"NO2"},{"d":606.7,"v":11.7,"s":"NO2"},{"d":608.8,"v":12.5,"s":"NO2"},{"d":611.5,"v":11.1,"s":"NO2"},{"d":613.6,"v":10.3,"s":"NO2"},{"d":618.8,"v":11.6,"s":"NO2"},{"d":626.8,"v":12.0,"s":"NO2"},{"d":629.7,"v":10.3,"s":"NO2"},{"d":633.1,"v":11.1,"s":"NO2"},{"d":636.6,"v":11.3,"s":"NO2"},{"d":639.3,"v":12.4,"s":"NO2"},{"d":643.9,"v":12.1,"s":"NO2"},
    {"d":-117.2,"v":18.6,"s":"NO3"},{"d":-115.7,"v":17.9,"s":"NO3"},{"d":-109.2,"v":17.55,"s":"NO3"},{"d":-108.4,"v":17.1,"s":"NO3"},{"d":-106.8,"v":16.05,"s":"NO3"},{"d":-106,"v":11.3,"s":"NO3"},{"d":-104.8,"v":19.2,"s":"NO3"},{"d":-103.7,"v":13.3,"s":"NO3"},{"d":-102.9,"v":12.1,"s":"NO3"},{"d":-100.1,"v":13.8,"s":"NO3"},{"d":-99.1,"v":12.2,"s":"NO3"},{"d":-98.6,"v":17.55,"s":"NO3"},{"d":-97.5,"v":15.5,"s":"NO3"},{"d":-96.4,"v":8.6,"s":"NO3"},{"d":-94.4,"v":6.7,"s":"NO3"},{"d":-95.2,"v":6.2,"s":"NO3"},{"d":-93.6,"v":5.5,"s":"NO3"},{"d":-91.3,"v":3.3,"s":"NO3"},{"d":-89,"v":3.7,"s":"NO3"},
    {"d":0,"v":1.4,"s":"NO3"},{"d":3,"v":1.2,"s":"NO3"},{"d":6.1,"v":0.9,"s":"NO3"},{"d":7.9,"v":1.7,"s":"NO3"},{"d":11.2,"v":0.9,"s":"NO3"},{"d":15.6,"v":1.9,"s":"NO3"},{"d":17.8,"v":1.4,"s":"NO3"},{"d":20,"v":1.2,"s":"NO3"},{"d":22.1,"v":0.8,"s":"NO3"},{"d":24.3,"v":0.6,"s":"NO3"},{"d":26.5,"v":0.5,"s":"NO3"},{"d":29.8,"v":0.6,"s":"NO3"},{"d":32,"v":0.5,"s":"NO3"},{"d":35.3,"v":0.9,"s":"NO3"},{"d":36.9,"v":1.3,"s":"NO3"},{"d":38.6,"v":1.5,"s":"NO3"},{"d":40.8,"v":1.1,"s":"NO3"},{"d":43,"v":1.3,"s":"NO3"},{"d":45.6,"v":1.0,"s":"NO3"},{"d":47.4,"v":1.3,"s":"NO3"},{"d":50.7,"v":2.0,"s":"NO3"},{"d":52.9,"v":1.9,"s":"NO3"},{"d":55,"v":1.8,"s":"NO3"},{"d":57.3,"v":1.7,"s":"NO3"},{"d":58.3,"v":2.1,"s":"NO3"},{"d":60.5,"v":3.7,"s":"NO3"},{"d":61.6,"v":4.1,"s":"NO3"},{"d":63.8,"v":6.3,"s":"NO3"},{"d":64.5,"v":6.0,"s":"NO3"},{"d":65.4,"v":6.8,"s":"NO3"},{"d":66,"v":12.7,"s":"NO3"},{"d":67.7,"v":11.0,"s":"NO3"},{"d":69.3,"v":10.8,"s":"NO3"},{"d":71,"v":11.5,"s":"NO3"},{"d":67.1,"v":9.0,"s":"NO3"},{"d":75.9,"v":9.0,"s":"NO3"},{"d":74.8,"v":7.0,"s":"NO3"},{"d":78,"v":6.1,"s":"NO3"},{"d":80.3,"v":7.7,"s":"NO3"},{"d":82,"v":7.2,"s":"NO3"},{"d":86.4,"v":13.6,"s":"NO3"},{"d":87.9,"v":8.5,"s":"NO3"},{"d":91.3,"v":9.8,"s":"NO3"},{"d":93,"v":4.9,"s":"NO3"},{"d":94.5,"v":7.0,"s":"NO3"},{"d":96.7,"v":5.9,"s":"NO3"},{"d":101.1,"v":6.8,"s":"NO3"},{"d":103.3,"v":10.6,"s":"NO3"},{"d":105.5,"v":6.5,"s":"NO3"},{"d":107,"v":6.1,"s":"NO3"},{"d":108.4,"v":8.0,"s":"NO3"},{"d":110.6,"v":10.1,"s":"NO3"},{"d":112.1,"v":7.9,"s":"NO3"},{"d":115,"v":6.6,"s":"NO3"},{"d":117.6,"v":6.0,"s":"NO3"},{"d":119.4,"v":7.3,"s":"NO3"},{"d":121.5,"v":7.6,"s":"NO3"},{"d":124.2,"v":8.8,"s":"NO3"},{"d":125.9,"v":10.1,"s":"NO3"},{"d":127.5,"v":10.1,"s":"NO3"},{"d":129,"v":9.3,"s":"NO3"},{"d":131.2,"v":12.4,"s":"NO3"},{"d":133.4,"v":9.1,"s":"NO3"},{"d":136.2,"v":14.3,"s":"NO3"},{"d":138.4,"v":13.7,"s":"NO3"},{"d":141.7,"v":12.8,"s":"NO3"},{"d":143.5,"v":15.8,"s":"NO3"},{"d":145,"v":13.9,"s":"NO3"},{"d":145.7,"v":13.0,"s":"NO3"},{"d":146.6,"v":9.7,"s":"NO3"},{"d":149.4,"v":10.1,"s":"NO3"},{"d":153.8,"v":12.2,"s":"NO3"},{"d":156,"v":10.3,"s":"NO3"},{"d":158.8,"v":7.8,"s":"NO3"},{"d":161,"v":7.6,"s":"NO3"},{"d":163.2,"v":7.0,"s":"NO3"},{"d":165.4,"v":6.5,"s":"NO3"},{"d":167,"v":5.5,"s":"NO3"},{"d":170.2,"v":5.4,"s":"NO3"},{"d":172.9,"v":5.1,"s":"NO3"},{"d":174.6,"v":5.3,"s":"NO3"},{"d":175.7,"v":4.4,"s":"NO3"},{"d":177.3,"v":4.1,"s":"NO3"},{"d":179,"v":3.8,"s":"NO3"},{"d":181.2,"v":4.0,"s":"NO3"},{"d":183,"v":4.2,"s":"NO3"},{"d":184.5,"v":3.1,"s":"NO3"},{"d":186.1,"v":2.6,"s":"NO3"},{"d":187.8,"v":2.3,"s":"NO3"},{"d":190,"v":2.6,"s":"NO3"},{"d":191.8,"v":2.2,"s":"NO3"},{"d":193.3,"v":1.9,"s":"NO3"},{"d":195.5,"v":1.3,"s":"NO3"},{"d":197.7,"v":1.4,"s":"NO3"},{"d":200.5,"v":1.7,"s":"NO3"},{"d":202.1,"v":1.2,"s":"NO3"},{"d":204.3,"v":1.0,"s":"NO3"},{"d":207.2,"v":1.0,"s":"NO3"},{"d":209.8,"v":0.9,"s":"NO3"},{"d":212,"v":1.0,"s":"NO3"},{"d":215.3,"v":1.0,"s":"NO3"},{"d":218.5,"v":1.1,"s":"NO3"},{"d":221.8,"v":1.1,"s":"NO3"},{"d":225.1,"v":1.2,"s":"NO3"},{"d":228.4,"v":1.3,"s":"NO3"},{"d":231.2,"v":1.3,"s":"NO3"},{"d":233.9,"v":1.2,"s":"NO3"},{"d":236.1,"v":1.3,"s":"NO3"},{"d":238.3,"v":1.0,"s":"NO3"},{"d":241.5,"v":1.2,"s":"NO3"},{"d":243.3,"v":2.4,"s":"NO3"},{"d":247,"v":5.5,"s":"NO3"},{"d":251.4,"v":4.0,"s":"NO3"},{"d":254.7,"v":4.7,"s":"NO3"},{"d":258,"v":5.0,"s":"NO3"},{"d":259.8,"v":4.8,"s":"NO3"},{"d":261.3,"v":4.7,"s":"NO3"},{"d":263.5,"v":4.5,"s":"NO3"},{"d":266.8,"v":4.0,"s":"NO3"},{"d":267.4,"v":2.1,"s":"NO3"},{"d":268.5,"v":1.7,"s":"NO3"},{"d":272.3,"v":3.2,"s":"NO3"},{"d":274.5,"v":3.9,"s":"NO3"},{"d":277.8,"v":3.1,"s":"NO3"},{"d":280,"v":3.7,"s":"NO3"},{"d":283.3,"v":4.1,"s":"NO3"},{"d":284.4,"v":3.9,"s":"NO3"},{"d":287,"v":3.6,"s":"NO3"},{"d":288.7,"v":3.2,"s":"NO3"},{"d":292,"v":4.2,"s":"NO3"},{"d":292.7,"v":4.6,"s":"NO3"},{"d":294.9,"v":3.2,"s":"NO3"},{"d":297.6,"v":4.1,"s":"NO3"},{"d":300.9,"v":5.3,"s":"NO3"},{"d":302,"v":4.1,"s":"NO3"},{"d":304.2,"v":4.2,"s":"NO3"},{"d":306.4,"v":3.8,"s":"NO3"},{"d":309,"v":4.1,"s":"NO3"},{"d":310.8,"v":5.1,"s":"NO3"},{"d":312.5,"v":4.2,"s":"NO3"},{"d":314.1,"v":5.7,"s":"NO3"},{"d":315.6,"v":6.2,"s":"NO3"},{"d":318.5,"v":6.9,"s":"NO3"},{"d":320.6,"v":9.3,"s":"NO3"},{"d":320,"v":11.0,"s":"NO3"},{"d":325,"v":10.2,"s":"NO3"},{"d":328.2,"v":11.3,"s":"NO3"},{"d":330.4,"v":12.8,"s":"NO3"},{"d":332.6,"v":13.1,"s":"NO3"},{"d":330,"v":15.7,"s":"NO3"},{"d":334.8,"v":12.5,"s":"NO3"},{"d":338.8,"v":15.4,"s":"NO3"},{"d":331.4,"v":13.2,"s":"NO3"},{"d":337.1,"v":13.8,"s":"NO3"},{"d":340.9,"v":12.0,"s":"NO3"},{"d":344,"v":7.9,"s":"NO3"},{"d":345,"v":5.9,"s":"NO3"},{"d":348.2,"v":5.9,"s":"NO3"},{"d":350.7,"v":5.2,"s":"NO3"},{"d":353.8,"v":3.6,"s":"NO3"},{"d":356.5,"v":2.2,"s":"NO3"},{"d":357.6,"v":1.9,"s":"NO3"},{"d":360.7,"v":1.9,"s":"NO3"},{"d":361.8,"v":1.5,"s":"NO3"},{"d":363.8,"v":1.3,"s":"NO3"},{"d":366,"v":1.0,"s":"NO3"},{"d":368,"v":0.6,"s":"NO3"},{"d":370.1,"v":0.7,"s":"NO3"},{"d":373.2,"v":0.8,"s":"NO3"},{"d":376.4,"v":0.8,"s":"NO3"},{"d":379.5,"v":0.8,"s":"NO3"},{"d":382.7,"v":0.5,"s":"NO3"},{"d":385.8,"v":0.5,"s":"NO3"},{"d":389,"v":0.4,"s":"NO3"},{"d":392,"v":0.3,"s":"NO3"},{"d":395.2,"v":0.4,"s":"NO3"},{"d":398.3,"v":0.5,"s":"NO3"},{"d":401.5,"v":0.6,"s":"NO3"},{"d":404.6,"v":0.6,"s":"NO3"},{"d":407.7,"v":0.5,"s":"NO3"},{"d":410.9,"v":0.5,"s":"NO3"},{"d":413.6,"v":0.8,"s":"NO3"},{"d":416.1,"v":0.5,"s":"NO3"},{"d":419.2,"v":0.5,"s":"NO3"},{"d":422.4,"v":0.6,"s":"NO3"},{"d":425.5,"v":0.6,"s":"NO3"},{"d":428.6,"v":0.8,"s":"NO3"},{"d":431.8,"v":0.8,"s":"NO3"},{"d":434.9,"v":1.1,"s":"NO3"},{"d":437.4,"v":1.2,"s":"NO3"},{"d":440.1,"v":1.1,"s":"NO3"},{"d":444.3,"v":1.6,"s":"NO3"},{"d":447.4,"v":1.4,"s":"NO3"},{"d":450.6,"v":1.5,"s":"NO3"},{"d":453.7,"v":1.6,"s":"NO3"},{"d":456.8,"v":1.8,"s":"NO3"},{"d":458.9,"v":1.4,"s":"NO3"},{"d":461,"v":1.2,"s":"NO3"},{"d":463.1,"v":0.5,"s":"NO3"},{"d":466.3,"v":0.3,"s":"NO3"},{"d":469.4,"v":0.5,"s":"NO3"},{"d":472.5,"v":0.3,"s":"NO3"},{"d":475.7,"v":0.3,"s":"NO3"},{"d":478.8,"v":0.5,"s":"NO3"},{"d":482,"v":0.3,"s":"NO3"},{"d":485.1,"v":0.4,"s":"NO3"},{"d":488.2,"v":0.5,"s":"NO3"},{"d":491.4,"v":0.7,"s":"NO3"},{"d":494.5,"v":0.4,"s":"NO3"},{"d":497.6,"v":0.3,"s":"NO3"},{"d":500.7,"v":0.3,"s":"NO3"},{"d":503.9,"v":0.4,"s":"NO3"},{"d":507,"v":0.7,"s":"NO3"},{"d":510.1,"v":0.8,"s":"NO3"},{"d":513.3,"v":0.5,"s":"NO3"},{"d":516.4,"v":0.3,"s":"NO3"},{"d":519.5,"v":0.4,"s":"NO3"},{"d":522.7,"v":0.8,"s":"NO3"},{"d":524.8,"v":1.0,"s":"NO3"},{"d":527.9,"v":0.7,"s":"NO3"},{"d":531,"v":0.5,"s":"NO3"},{"d":534.2,"v":1.1,"s":"NO3"},{"d":537.3,"v":0.9,"s":"NO3"},{"d":539.4,"v":1.0,"s":"NO3"},{"d":542.5,"v":0.7,"s":"NO3"},{"d":545.7,"v":0.8,"s":"NO3"},{"d":549.4,"v":1.1,"s":"NO3"},{"d":552,"v":0.9,"s":"NO3"},{"d":555.1,"v":0.8,"s":"NO3"},{"d":558.2,"v":0.9,"s":"NO3"},{"d":561.3,"v":1.0,"s":"NO3"},{"d":564.1,"v":1.3,"s":"NO3"},{"d":566.2,"v":1.0,"s":"NO3"},{"d":568.7,"v":0.9,"s":"NO3"},{"d":572.9,"v":0.8,"s":"NO3"},{"d":576,"v":0.6,"s":"NO3"},{"d":579.1,"v":0.7,"s":"NO3"},{"d":582.2,"v":0.6,"s":"NO3"},{"d":585.4,"v":0.7,"s":"NO3"},{"d":588.5,"v":0.5,"s":"NO3"},{"d":591.7,"v":0.7,"s":"NO3"},{"d":594.8,"v":0.6,"s":"NO3"},{"d":598,"v":0.9,"s":"NO3"},{"d":601.1,"v":0.8,"s":"NO3"},{"d":604.2,"v":0.6,"s":"NO3"},{"d":608.4,"v":0.1,"s":"NO3"},{"d":613.6,"v":0.1,"s":"NO3"},{"d":619.9,"v":0.1,"s":"NO3"},{"d":626.8,"v":1.0,"s":"NO3"},{"d":629.7,"v":0.8,"s":"NO3"},{"d":633.1,"v":0.6,"s":"NO3"},{"d":636.6,"v":0.7,"s":"NO3"},{"d":639.7,"v":0.5,"s":"NO3"},{"d":643.9,"v":0.4,"s":"NO3"}
  ]
},
"vconcat": [
  {
    "width": 1115, "height": 274,
    "encoding": {
      "x": {"field": "d", "type": "quantitative", "scale": {"domain": [-120, -90, -1, 648], "range": [0, 65, 84, 1115]}, "axis": {"values": [-120,-100,-90,0,20,40,60,80,100,120,140,160,180,200,220,240,260,280,300,320,340,360,380,400,420,440,460,480,500,520,540,560,580,600,620,640], "labels": false, "title": null}},
      "y": {"field": "r", "type": "quantitative", "scale": {"domain": [0, 1], "nice": false, "zero": false}, "axis": {"values": [0, 0.1, 0.2, 0.3, 0.4, 0.5, 0.6, 0.7, 0.8, 0.9, 1], "labelExpr": "round(datum.value * 10) % 2 == 1 ? '' : format(datum.value, '.1f')", "tickSize": {"condition": {"test": "round(datum.value * 10) % 2 == 1", "value": 4}, "value": 7}, "title": "Nitrite accumulation ratio", "titleX": -42}}
    },
    "layer": [
      {"data": {"name": "phT"}, "mark": {"type": "rule", "color": "black", "strokeWidth": 1.5, "strokeDash": [3, 3]}, "encoding": {"y2": {"field": "r2"}}},
      {"data": {"name": "brkT"}, "mark": {"type": "rule", "color": "#222222", "strokeWidth": 1.5}, "encoding": {"y2": {"field": "r2"}}},
      {"data": {"name": "redT"}, "mark": {"type": "rule", "color": "#a0282d", "strokeWidth": 1, "strokeDash": [4, 3]}, "encoding": {"y2": {"field": "r2"}}},
      {"data": {"name": "brH"}, "mark": {"type": "rule", "color": "#c0272d", "strokeWidth": 1.5}, "encoding": {"x2": {"field": "d2"}}},
      {"data": {"name": "brV"}, "mark": {"type": "rule", "color": "#c0272d", "strokeWidth": 1.5}, "encoding": {"y2": {"field": "r2"}}},
      {"data": {"name": "arr"}, "mark": {"type": "rule", "color": "#d01020", "strokeWidth": 1.5}, "encoding": {"y2": {"field": "r2"}}},
      {"data": {"name": "arrH"}, "mark": {"type": "point", "shape": "triangle-down", "filled": true, "color": "#e00010", "size": 90, "opacity": 1}, "encoding": {}},
      {"data": {"name": "phaseT"}, "mark": {"type": "text", "font": "Liberation Serif", "fontSize": 20, "fontWeight": "bold", "color": "black"}, "encoding": {"text": {"field": "t"}}},
      {"data": {"name": "regT"}, "mark": {"type": "text", "font": "Liberation Serif", "fontSize": 20, "color": "black"}, "encoding": {"text": {"field": "t"}}},
      {"data": {"name": "annT"}, "mark": {"type": "text", "font": "Liberation Serif", "fontSize": 20, "color": "#b8282e"}, "encoding": {"text": {"field": "t"}}},
      {"data": {"name": "nar"}, "mark": {"type": "point", "shape": "M0,-1L0,1M-1,0L1,0M-0.7,-0.7L0.7,0.7M-0.7,0.7L0.7,-0.7", "filled": false, "color": "black", "strokeWidth": 1.3, "size": 250, "opacity": 1}, "encoding": {}}
    ]
  },
  {
    "width": 1115, "height": 366,
    "encoding": {
      "x": {"field": "d", "type": "quantitative", "scale": {"domain": [-120, -90, -1, 648], "range": [0, 65, 84, 1115]}, "axis": {"values": [-120,-100,-90,0,20,40,60,80,100,120,140,160,180,200,220,240,260,280,300,320,340,360,380,400,420,440,460,480,500,520,540,560,580,600,620,640], "labelExpr": "datum.value == -90 ? '' : '' + datum.value", "labelFlush": false, "labelOverlap": false, "labelPadding": 3, "title": "Time (d)", "titlePadding": 2}},
      "y": {"field": "v", "type": "quantitative", "scale": {"domain": [0, 20], "nice": false, "zero": false}, "axis": {"values": [0, 2.5, 5, 7.5, 10, 12.5, 15, 17.5, 20], "labelExpr": "datum.value % 5 != 0 ? '' : '' + datum.value", "tickSize": {"condition": {"test": "datum.value % 5 != 0", "value": 4}, "value": 7}, "title": "Nitrogenous compound (mgN/L)", "titleX": -42}}
    },
    "layer": [
      {"data": {"name": "phB"}, "mark": {"type": "rule", "color": "black", "strokeWidth": 1, "strokeDash": [4, 3]}, "encoding": {"y2": {"field": "v2"}}},
      {"data": {"name": "brkB"}, "mark": {"type": "rule", "color": "#222222", "strokeWidth": 1.5}, "encoding": {"y2": {"field": "v2"}}},
      {"data": {"name": "nc"}, "mark": {"type": "point", "filled": false, "strokeWidth": 2, "size": 145, "opacity": 1},
       "encoding": {
         "color": {"field": "s", "type": "nominal", "scale": {"domain": ["NH4", "NO2", "NO3"], "range": ["#8a8a1c", "#1414a8", "#a81818"]}, "legend": {"title": null, "labelExpr": "datum.label == 'NH4' ? 'NH₄⁺-N' : datum.label == 'NO2' ? 'NO₂⁻-N' : 'NO₃⁻-N'"}},
         "shape": {"field": "s", "type": "nominal", "scale": {"domain": ["NH4", "NO2", "NO3"], "range": ["triangle-up", "circle", "square"]}, "legend": {"title": null, "labelExpr": "datum.label == 'NH4' ? 'NH₄⁺-N' : datum.label == 'NO2' ? 'NO₂⁻-N' : 'NO₃⁻-N'"}}
       }}
    ]
  }
]
}
